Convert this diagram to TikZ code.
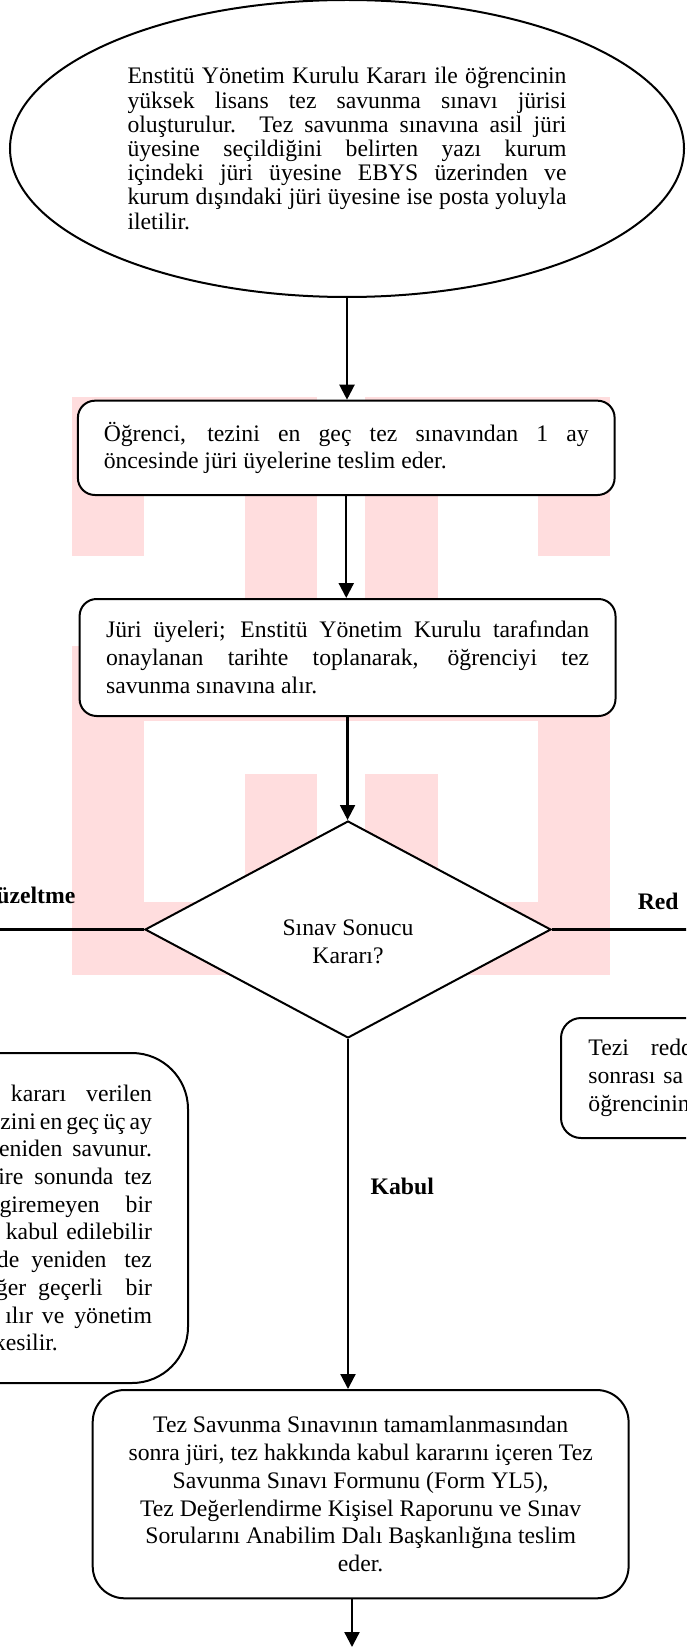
\documentclass[tikz,border=0pt]{standalone}
\usepackage{fontspec}
\setmainfont{Liberation Serif}
\usepackage{tikz}
\usetikzlibrary{shapes,arrows.meta,positioning}
\definecolor{wmpembe}{RGB}{255,221,222}
\hyphenpenalty=10000
\exhyphenpenalty=10000
\tolerance=9999

\begin{document}
\begin{tikzpicture}[x=0.5pt,y=-0.5pt,font=\fontsize{11.85pt}{13.85pt}\selectfont]
\tikzstyle{baslangic}=[ellipse, draw=black, line width=1pt, fill=white, inner sep=0pt, minimum width=337pt, minimum height=148.5pt, font=\fontsize{11.85pt}{12.1pt}\selectfont]
\tikzstyle{surec}=[rectangle, rounded corners=8.5pt, draw=black, line width=1pt, fill=white, inner sep=0pt]
\tikzstyle{soru}=[diamond, draw=black, line width=1pt, fill=white, inner sep=0pt, minimum width=203pt, minimum height=108.5pt]
\tikzstyle{etiket}=[inner sep=0pt, font=\fontsize{11.85pt}{13.85pt}\selectfont\bfseries]
\tikzstyle{connect}=[-{Triangle[length=7.5pt,width=7.5pt]}, line width=1.1pt]
\tikzstyle{wm}=[fill=wmpembe, draw=none]
\useasboundingbox (0,0) rectangle (686,1647);
\clip (0,0) rectangle (686,1647);

	\fill[wm] (72,397) rectangle (317,480);
	\fill[wm] (72,397) rectangle (144,556);
	\fill[wm] (245,397) rectangle (317,650);
	\fill[wm] (365,397) rectangle (610,480);
	\fill[wm] (365,397) rectangle (437.5,650);
	\fill[wm] (538,397) rectangle (610,556);
	\fill[wm] (72,646) rectangle (610,721);
	\fill[wm] (72,646) rectangle (144,975);
	\fill[wm] (538,646) rectangle (610,975);
	\fill[wm] (72,902) rectangle (610,975);
	\fill[wm] (245,774) rectangle (317,902);
	\fill[wm] (365,774) rectangle (437.5,902);

	\node[baslangic, text width=219.5pt, align=justify] (bas) at (347,148.5) {Enstitü Yönetim Kurulu Kararı ile öğrencinin\linebreak yüksek lisans tez savunma sınavı jürisi\linebreak oluşturulur. Tez savunma sınavına asil jüri\linebreak üyesine seçildiğini belirten yazı kurum\linebreak içindeki jüri üyesine EBYS üzerinden ve\linebreak kurum dışındaki jüri üyesine ise posta yoluyla\linebreak iletilir.};
	\node[surec, text width=242.5pt, minimum width=268.35pt, minimum height=47.15pt, align=justify] (k_1) at (346.25,447.85) {Öğrenci, tezini en geç tez sınavından 1 ay\linebreak öncesinde jüri üyelerine teslim eder.};
	\node[surec, text width=241.5pt, minimum width=267.95pt, minimum height=58.5pt, align=justify] (k_2) at (347.55,657.5) {Jüri üyeleri; Enstitü Yönetim Kurulu tarafından\linebreak onaylanan tarihte toplanarak, öğrenciyi tez\linebreak savunma sınavına alır.};
	\node[soru] (karar) at (348,929.5) [label={[name=karar_y, align=center, yshift=-6pt]center:Sınav Sonucu\\Kararı?}]{};
	\node[surec, rounded corners=28pt, text width=208pt, minimum width=244pt, minimum height=165pt, align=right] (duz) at (-56,1218) {kararı\hspace{10pt}verilen\\zini\hspace{2pt}en\hspace{2pt}geç\hspace{2pt}üç\hspace{2pt}ay\\eniden\hspace{5pt}savunur.\\ire\hspace{5.5pt}sonunda\hspace{5.5pt}tez\\giremeyen\hspace{13pt}bir\\kabul edilebilir\\de\hspace{6pt}yeniden\hspace{9pt}tez\\Eğer\hspace{6pt}geçerli\hspace{11.5pt}bir\\ılır\hspace{4.5pt}ve\hspace{5pt}yönetim\\\makebox[79pt][l]{kesilir.}};
	\node[surec, rounded corners=10pt, text width=142.1pt, minimum width=169.5pt, minimum height=60pt, align=left] (red_k) at (730.5,1078) {Tezi\hspace{11pt}redd\\sonrası sa\\öğrencinin};
	\node[surec, rounded corners=16pt, minimum width=267.95pt, minimum height=104.15pt, align=center] (son) at (360.65,1494.15) {Tez Savunma Sınavının tamamlanmasından\\sonra jüri, tez hakkında kabul kararını içeren Tez\\Savunma Sınavı Formunu (Form YL5),\\Tez Değerlendirme Kişisel Raporunu ve Sınav\\Sorularını Anabilim Dalı Başkanlığına teslim\\eder.};

	\coordinate (sol_c) at (-20,929.5);
	\coordinate (sag_c) at (706,929.5);
	\coordinate (bitis) at (352,1647);

	\draw[connect] (bas.south) -- (bas.south |- k_1.north);
	\draw[connect] (k_1.south) -- (k_1.south |- k_2.north);
	\draw[connect] (k_2.south) -- (k_2.south |- karar.north);
	\draw[line width=1.1pt] (karar.west) -- node[etiket, pos=0.412, anchor=south east, yshift=12.5pt] {Düzeltme} (sol_c);
	\draw[line width=1.1pt] (karar.east) -- node[etiket, pos=0.55, anchor=south west, yshift=9.5pt] {Red} (sag_c);
	\draw[connect] (karar.south) -- node[etiket, pos=0.42, anchor=west, xshift=10.8pt] {Kabul} (karar.south |- son.north);
	\draw[connect] (son.south -| bitis) -- (bitis);

\end{tikzpicture}
\end{document}
